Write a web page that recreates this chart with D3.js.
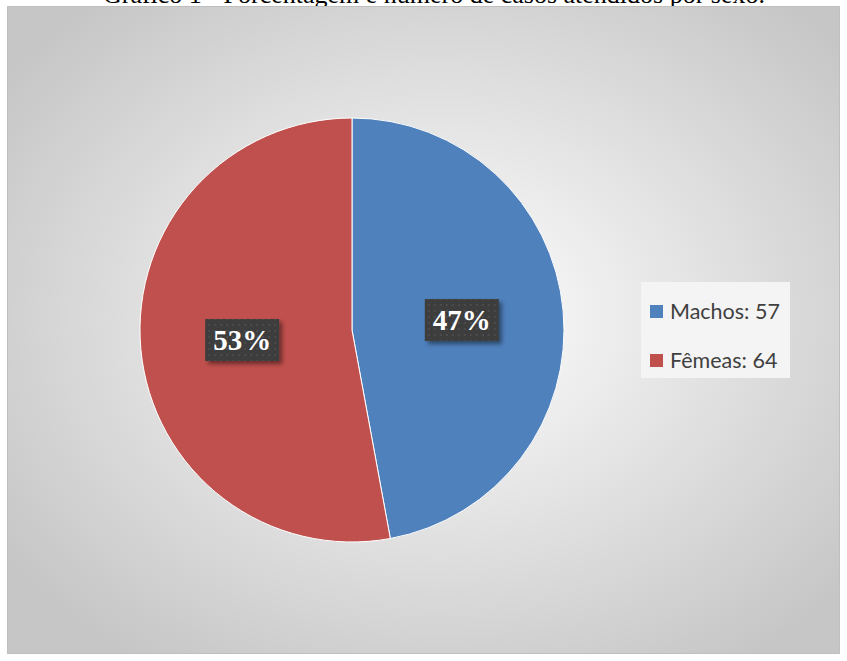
<!DOCTYPE html>
<html>
<head>
<meta charset="utf-8">
<script src="https://cdn.jsdelivr.net/npm/d3@7"></script>
<style>
  body { margin: 0; background: #fff; }
  svg { display: block; }
</style>
</head>
<body>
<svg id="viz" width="847" height="661"></svg>
<script>
const title = "Gráfico 1 - Porcentagem e número de casos atendidos por sexo.";
const categories = ["Machos", "Fêmeas"];
const counts = [57, 64];
const colors = ["#4F81BD", "#C0504D"];

const svg = d3.select("#viz");
const defs = svg.append("defs");

// background gradient
const bg = defs.append("radialGradient").attr("id", "bg")
  .attr("cx", "52%").attr("cy", "48%").attr("r", "64%");
bg.append("stop").attr("offset", "0%").attr("stop-color", "#ffffff");
bg.append("stop").attr("offset", "100%").attr("stop-color", "#c6c6c6");

// dotted label fill
const pat = defs.append("pattern").attr("id", "dots")
  .attr("width", 6).attr("height", 6).attr("patternUnits", "userSpaceOnUse");
pat.append("rect").attr("width", 6).attr("height", 6).attr("fill", "#3d3d3d");
pat.append("rect").attr("x", 2).attr("y", 2).attr("width", 2).attr("height", 2).attr("fill", "#4b4b4b");

const shadow = defs.append("filter").attr("id", "shadow")
  .attr("x", "-20%").attr("y", "-20%").attr("width", "150%").attr("height", "160%");
shadow.append("feDropShadow").attr("dx", 3).attr("dy", 3).attr("stdDeviation", 2)
  .attr("flood-color", "#000").attr("flood-opacity", 0.45);

// title (cut off at the top in the source)
svg.append("text")
  .attr("x", 434).attr("y", 3)
  .attr("text-anchor", "middle")
  .attr("font-family", "Liberation Serif, Times New Roman, serif")
  .attr("font-size", 26)
  .attr("fill", "#000")
  .text(title);

// chart frame
svg.append("rect")
  .attr("x", 7.5).attr("y", 6.5).attr("width", 832).attr("height", 647)
  .attr("fill", "url(#bg)").attr("stroke", "#bfbfbf");

const cx = 352, cy = 330, R = 212;
const total = d3.sum(counts);
const pie = d3.pie().sort(null).value(d => d)(counts);
const arc = d3.arc().innerRadius(0).outerRadius(R);
const labelArc = d3.arc().innerRadius(R * 0.52).outerRadius(R * 0.52);

const g = svg.append("g").attr("transform", `translate(${cx},${cy})`);
g.selectAll("path")
  .data(pie)
  .enter()
  .append("path")
  .attr("d", arc)
  .attr("fill", (d, i) => colors[i])
  .attr("stroke", "#fff")
  .attr("stroke-width", 1);

const labels = g.selectAll("g.lab")
  .data(pie)
  .enter()
  .append("g")
  .attr("class", "lab")
  .attr("transform", d => {
    const [x, y] = labelArc.centroid(d);
    return `translate(${x},${y})`;
  });
labels.append("rect")
  .attr("x", -37).attr("y", -21).attr("width", 74).attr("height", 42)
  .attr("fill", "url(#dots)")
  .attr("filter", "url(#shadow)");
labels.append("text")
  .attr("text-anchor", "middle")
  .attr("y", 10)
  .attr("font-family", "Liberation Serif, Times New Roman, serif")
  .attr("font-weight", "bold")
  .attr("font-size", 29)
  .attr("fill", "#fff")
  .text(d => Math.round(d.value / total * 100) + "%");

// legend
const leg = svg.append("g").attr("transform", "translate(641,282)");
leg.append("rect").attr("width", 149).attr("height", 96).attr("fill", "#f4f4f4");
const items = leg.selectAll("g")
  .data(categories)
  .enter()
  .append("g")
  .attr("transform", (d, i) => `translate(9,${23 + i * 49})`);
items.append("rect")
  .attr("width", 13).attr("height", 13)
  .attr("fill", (d, i) => colors[i]);
items.append("text")
  .attr("x", 20).attr("y", 14)
  .attr("font-family", "Lato, Open Sans, sans-serif")
  .attr("font-size", 21.5)
  .attr("fill", "#404040")
  .text((d, i) => `${d}: ${counts[i]}`);
</script>
</body>
</html>
